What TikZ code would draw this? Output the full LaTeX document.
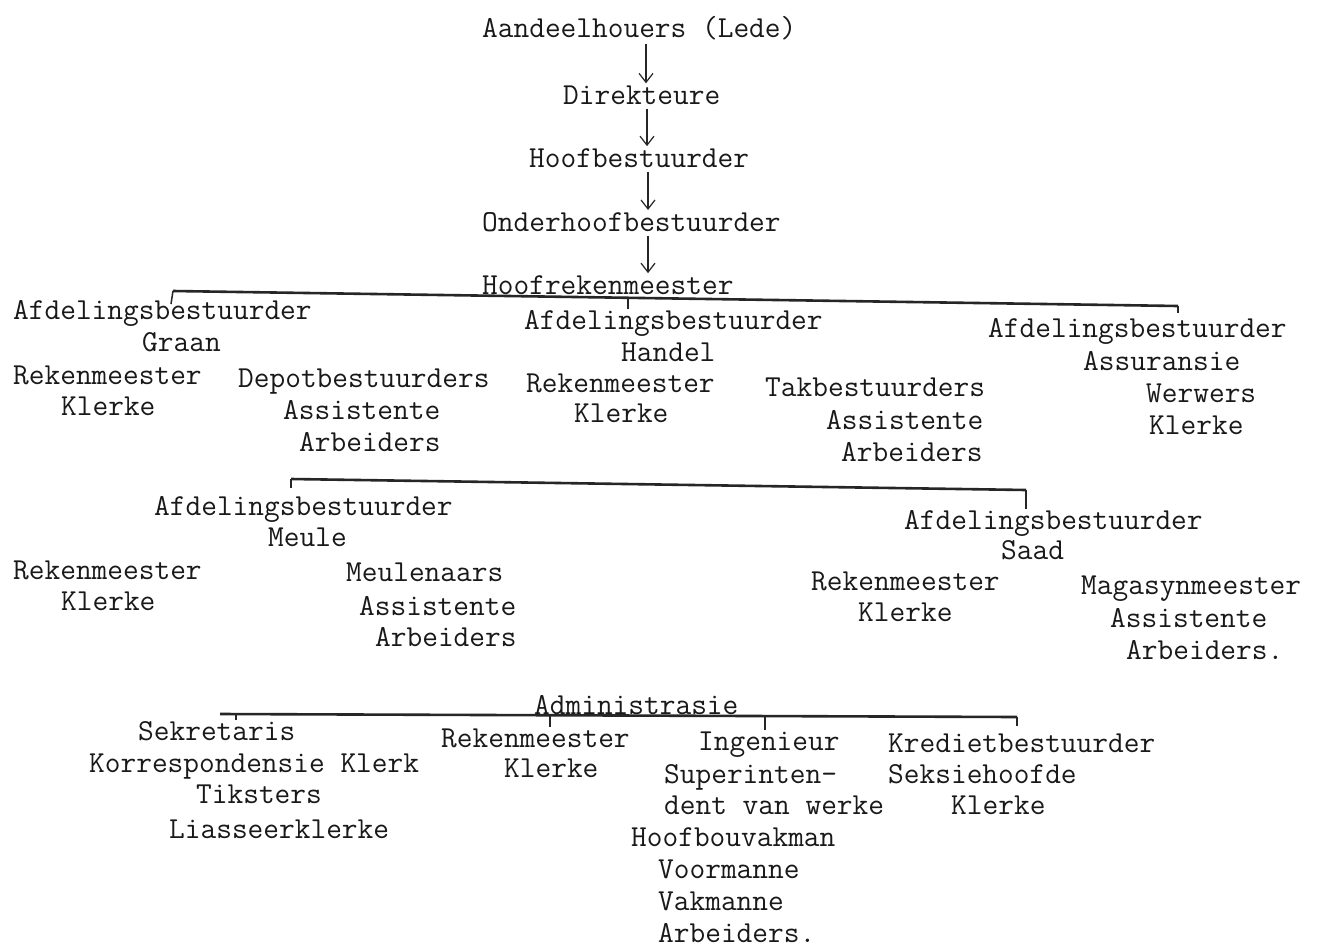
\documentclass[tikz,border=0pt]{standalone}
\usepackage{fontspec}
\usetikzlibrary{arrows.meta}
\begin{document}
\begin{tikzpicture}[x=1pt,y=-1pt,
  txt/.style={font=\ttfamily\fontsize{30.5}{36}\selectfont, anchor=mid west, inner sep=1pt, yshift=-5pt, text=black!90},
  arr/.style={draw=black!85, line width=1.4pt, shorten <=3pt, shorten >=1pt, -{Straight Barb[length=9pt,width=14pt,line width=1.2pt]}},
  bar/.style={draw=black!85, line width=2.6pt},
  tick/.style={draw=black!85, line width=1.5pt}]
\useasboundingbox[fill=white] (0,0) rectangle (1321,947);
% top chain
\node[txt] (ah) at (481,30) {Aandeelhouers (Lede)};
\node[txt] (dir) at (562,97) {Direkteure};
\node[txt] (hb) at (528,160) {Hoofbestuurder};
\node[txt] (ohb) at (481,224) {Onderhoofbestuurder};
\node[txt] (hrm) at (481,287) {Hoofrekenmeester};
\draw[arr] (ah.south -| 646,0) -- (dir.north -| 646,0);
\draw[arr] (dir.south -| 647,0) -- (hb.north -| 647,0);
\draw[arr] (hb.south -| 648,0) -- (ohb.north -| 648,0);
\draw[arr] (ohb.south -| 648,0) -- (hrm.north -| 648,0);
% level 1
\node[txt] (g1) at (12,312) {Afdelingsbestuurder};
\node[txt] (g2) at (141,344) {Graan};
\node[txt] (g3) at (12,377) {Rekenmeester};
\node[txt] (g4) at (60,408) {Klerke};
\node[txt] (g5) at (237,380) {Depotbestuurders};
\node[txt] (g6) at (282,412) {Assistente};
\node[txt] (g7) at (298,444) {Arbeiders};
\node[txt] (h1) at (523,322) {Afdelingsbestuurder};
\node[txt] (h2) at (620,354) {Handel};
\node[txt] (h3) at (525,385) {Rekenmeester};
\node[txt] (h4) at (573,415) {Klerke};
\node[txt] (h5) at (764,389) {Takbestuurders};
\node[txt] (h6) at (825,422) {Assistente};
\node[txt] (h7) at (840,454) {Arbeiders};
\node[txt] (a1) at (987,330) {Afdelingsbestuurder};
\node[txt] (a2) at (1082,363) {Assuransie};
\node[txt] (a3) at (1145,395) {Werwers};
\node[txt] (a4) at (1148,427) {Klerke};
\coordinate (b1L) at (173,291);
\coordinate (b1M) at (628,299);
\coordinate (b1R) at (1178,306);
\draw[bar] (b1L) -- (b1R);
\draw[tick] (b1L) -- (171,304);
\draw[tick] (b1M) -- (b1M |- h1.north);
\draw[tick] (b1R) -- ([yshift=-7pt]b1R);
% level 2
\node[txt] (m1) at (153,508) {Afdelingsbestuurder};
\node[txt] (m2) at (267,539) {Meule};
\node[txt] (m3) at (12,572) {Rekenmeester};
\node[txt] (m4) at (60,603) {Klerke};
\node[txt] (m5) at (345,574) {Meulenaars};
\node[txt] (m6) at (358,608) {Assistente};
\node[txt] (m7) at (374,639) {Arbeiders};
\node[txt] (s1) at (903,522) {Afdelingsbestuurder};
\node[txt] (s2) at (1000,552) {Saad};
\node[txt] (s3) at (810,583) {Rekenmeester};
\node[txt] (s4) at (857,614) {Klerke};
\node[txt] (s5) at (1080,587) {Magasynmeester};
\node[txt] (s6) at (1109,620) {Assistente};
\node[txt] (s7) at (1125,652) {Arbeiders.};
\coordinate (b2L) at (291,479);
\coordinate (b2R) at (1026,490);
\draw[bar] (b2L) -- (b2R);
\draw[tick] (b2L) -- ([yshift=-9pt]b2L);
\draw[tick] (b2R) -- (b2R |- s1.north);
% level 3
\node[txt] (ad) at (533,707) {Administrasie};
\node[txt] (k1) at (137,733) {Sekretaris};
\node[txt] (k2) at (88,765) {Korrespondensie Klerk};
\node[txt] (k3) at (195,796) {Tiksters};
\node[txt] (k4) at (168,831) {Liasseerklerke};
\node[txt] (r1) at (440,740) {Rekenmeester};
\node[txt] (r2) at (503,770) {Klerke};
\node[txt] (i1) at (697,743) {Ingenieur};
\node[txt] (i2) at (663,776) {Superinten-};
\node[txt] (i3) at (663,807) {dent van werke};
\node[txt] (i4) at (630,839) {Hoofbouvakman};
\node[txt] (i5) at (657,871) {Voormanne};
\node[txt] (i6) at (657,903) {Vakmanne};
\node[txt] (i7) at (657,935) {Arbeiders.};
\node[txt] (c1) at (887,745) {Kredietbestuurder};
\node[txt] (c2) at (887,776) {Seksiehoofde};
\node[txt] (c3) at (950,807) {Klerke};
\coordinate (b3L) at (220,714);
\coordinate (b3a) at (236,714);
\coordinate (b3b) at (550,715);
\coordinate (b3c) at (765,716);
\coordinate (b3R) at (1017,717);
\draw[bar] (b3L) -- (b3R);
\draw[tick] (b3a) -- (b3a |- k1.north);
\draw[tick] (b3b) -- (b3b |- r1.north);
\draw[tick] (b3c) -- (b3c |- i1.north);
\draw[tick] (b3R) -- ([yshift=-9pt]b3R);
\end{tikzpicture}
\end{document}
